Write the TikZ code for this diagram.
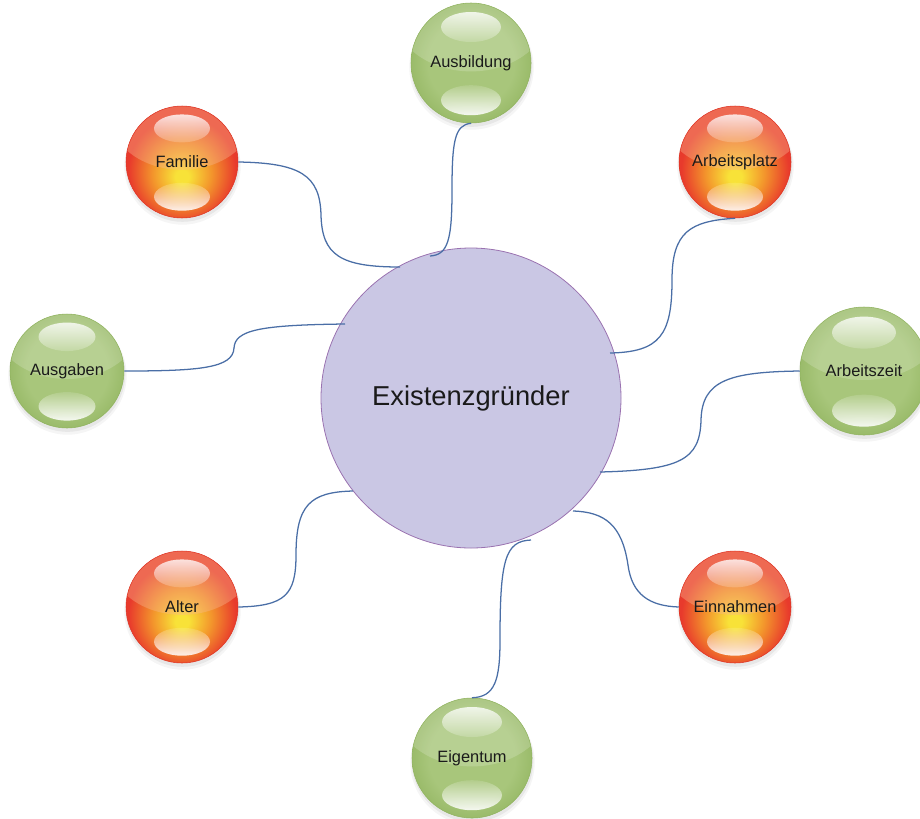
\documentclass[tikz,border=0pt]{standalone}
\usepackage{fontspec}
\setmainfont{Liberation Sans}
\usetikzlibrary{calc,fadings}

\definecolor{hubfill}{HTML}{CAC7E4}
\definecolor{hubrim}{HTML}{9A72B0}
\definecolor{linkblue}{HTML}{4A6EA6}
\definecolor{labeltext}{HTML}{1A1A1A}
% warm orb palette
\definecolor{rYel}{HTML}{F8E238}
\definecolor{rOra}{HTML}{F3962C}
\definecolor{rRed}{HTML}{E83A2C}
\definecolor{rRim}{HTML}{DE3424}
\definecolor{rGloss}{HTML}{F8B890}
% green orb palette
\definecolor{gMid}{HTML}{A8C67B}
\definecolor{gEdge}{HTML}{9ABB6A}
\definecolor{gRim}{HTML}{90B35F}

\pgfdeclareradialshading{orbred}{\pgfpoint{0bp}{-7bp}}{%
  color(0bp)=(rYel); color(3bp)=(rYel); color(13bp)=(rOra);
  color(24bp)=(rRed); color(30bp)=(rRed); color(50bp)=(rRed)}
\pgfdeclareradialshading{orbgreen}{\pgfpoint{0bp}{0bp}}{%
  color(0bp)=(gMid); color(18bp)=(gMid); color(25bp)=(gEdge); color(50bp)=(gEdge)}

% soft highlights: opaque towards the rim side, fading towards the centre
\tikzfading[name=shinetop, top color=transparent!5, bottom color=transparent!80]
\tikzfading[name=shinebottom, top color=transparent!85, bottom color=transparent!0]

\tikzset{
  link/.style={draw=linkblue, line width=0.95pt},
  orblabel/.style={circle, inner sep=0pt, font=\fontsize{12.3}{14}\selectfont, text=labeltext},
}

% glossy orb body: #1 x, #2 y, #3 radius, #4 shading, #5 rim colour,
% #6 gloss colour, #7 gloss opacity
\newcommand\orbbody[7]{%
  \begin{scope}[shift={(#1,#2)}]
    \fill[black, opacity=0.04] (0.5,4.5) circle[radius=#3+2.2];
    \fill[black, opacity=0.06] (0.5,3) circle[radius=#3+0.8];
    \shade[shading=#4] (0,0) circle[radius=#3];
    \begin{scope}
      \clip (0,0) circle[radius=#3];
      \fill[#6, opacity=#7] (0,-0.86*#3) ellipse[x radius=1.3*#3, y radius=#3];
    \end{scope}
    \draw[#5, line width=0.4pt] (0,0) circle[radius=#3];
    % upper and lower highlights
    \fill[white, opacity=0.85, path fading=shinetop]
      (0,-0.6*#3) ellipse[x radius=0.5*#3, y radius=0.25*#3];
    \fill[white, opacity=0.9, path fading=shinebottom]
      (0,0.62*#3) ellipse[x radius=0.5*#3, y radius=0.25*#3];
  \end{scope}}
\newcommand\redorb[5]{%
  \orbbody{#2}{#3}{#4}{orbred}{rRim}{rGloss}{0.38}
  \node[orblabel, minimum size={#4*1.5pt}] (#1) at (#2,#3) {#5};}
\newcommand\greenorb[5]{%
  \orbbody{#2}{#3}{#4}{orbgreen}{gRim}{white}{0.18}
  \node[orblabel, minimum size={#4*1.5pt}] (#1) at (#2,#3) {#5};}

\begin{document}
\begin{tikzpicture}[x=0.75pt, y=-0.75pt]
  \useasboundingbox (0,0) rectangle (920,818);

  % central topic
  \node[circle, minimum size=225pt, inner sep=0pt, fill=hubfill, draw=hubrim,
        line width=0.6pt, font=\fontsize{20.5}{24}\selectfont, text=labeltext]
        (ex) at (471,398) {Existenzgründer};

  % surrounding topics
  \greenorb{aus}{471}{63}{60}{Ausbildung}
  \redorb{fam}{182}{162}{56}{Familie}
  \redorb{arbp}{735}{162}{56}{Arbeitsplatz}
  \greenorb{ausg}{67}{371}{57}{Ausgaben}
  \greenorb{arbz}{864}{371}{64}{Arbeitszeit}
  \redorb{alt}{182}{607}{56}{Alter}
  \redorb{ein}{735}{607}{56}{Einnahmen}
  \greenorb{eig}{472}{758}{60}{Eigentum}

  % connector ends inside the central circle
  \coordinate (eFam)  at (400,267);
  \coordinate (eAus)  at (430,256);
  \coordinate (eArbp) at (610,353);
  \coordinate (eArbz) at (600,472);
  \coordinate (eAusg) at (345,324);
  \coordinate (eAlt)  at (353,491);
  \coordinate (eEin)  at (573,511);
  \coordinate (eEig)  at (531,540);

  % curved connectors
  \draw[link] (fam.east) .. controls (300,163) and (320,175) .. (321,215)
                         .. controls (322,255) and (340,267) .. (eFam);
  \draw[link] (aus.south) .. controls (455,125) and (452,140) .. (452,190)
                          .. controls (452,240) and (448,255) .. (eAus);
  \draw[link] (arbp.south) .. controls (690,221) and (672,232) .. (672,280)
                           .. controls (672,335) and (660,352) .. (eArbp);
  \draw[link] (arbz.west) .. controls (730,372) and (702,380) .. (701,420)
                          .. controls (700,460) and (680,470) .. (eArbz);
  \draw[link] (ausg.east) .. controls (200,371) and (233,368) .. (234,348)
                          .. controls (235,330) and (260,325) .. (eAusg);
  \draw[link] (alt.east) .. controls (285,606) and (296,595) .. (296,555)
                         .. controls (296,505) and (310,492) .. (eAlt);
  \draw[link] (ein.west) .. controls (650,606) and (632,595) .. (628,565)
                         .. controls (622,525) and (605,512) .. (eEin);
  \draw[link] (eig.north) .. controls (495,697) and (500,680) .. (500,640)
                          .. controls (500,560) and (505,541) .. (eEig);
\end{tikzpicture}
\end{document}
